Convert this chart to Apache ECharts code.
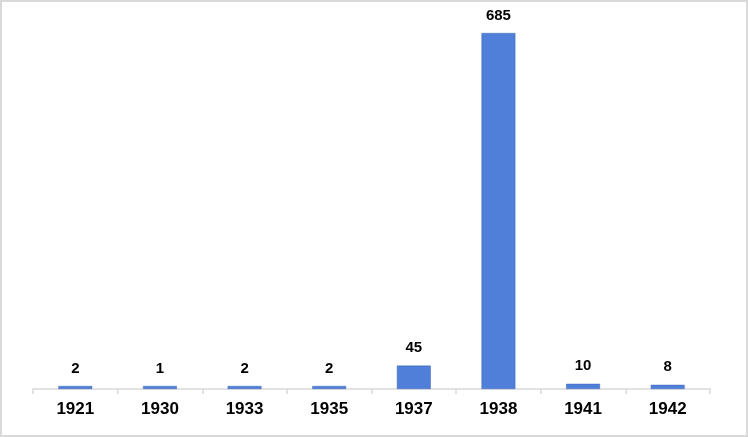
<!DOCTYPE html>
<html>
<head>
<meta charset="utf-8">
<script src="https://cdn.jsdelivr.net/npm/echarts@6/dist/echarts.min.js"></script>
<style>
  html, body { margin: 0; padding: 0; background: #fff; }
  #chart { width: 744px; height: 433px; border: 2px solid #d9d9d9; }
</style>
</head>
<body>
<div id="chart"></div>
<script>
const years = ['1921', '1930', '1933', '1935', '1937', '1938', '1941', '1942']
const counts = [2, 1, 2, 2, 45, 685, 10, 8]

const chart = echarts.init(document.getElementById('chart'))
chart.setOption({
  animation: false,
  grid: { left: 31, right: 36, top: 31, bottom: 46 },
  xAxis: {
    type: 'category',
    data: years,
    axisLine: { lineStyle: { color: '#d9d9d9', width: 1.5 } },
    axisTick: { show: true, length: 5, lineStyle: { color: '#d9d9d9', width: 1.5 } },
    axisLabel: {
      color: '#000',
      fontFamily: 'Liberation Sans, Arial, sans-serif',
      fontWeight: 'bold',
      fontSize: 17,
      margin: 12
    }
  },
  yAxis: {
    type: 'value',
    min: 0,
    max: 685,
    show: false,
    splitLine: { show: false }
  },
  series: [{
    type: 'bar',
    data: counts,
    barWidth: '40%',
    barMinHeight: 3,
    itemStyle: { color: '#4f7fd9', borderColor: '#3f69b8', borderWidth: 0.5 },
    label: {
      show: true,
      position: 'top',
      distance: 10,
      color: '#000',
      fontFamily: 'Liberation Sans, Arial, sans-serif',
      fontWeight: 'bold',
      fontSize: 15
    }
  }]
})
</script>
</body>
</html>
